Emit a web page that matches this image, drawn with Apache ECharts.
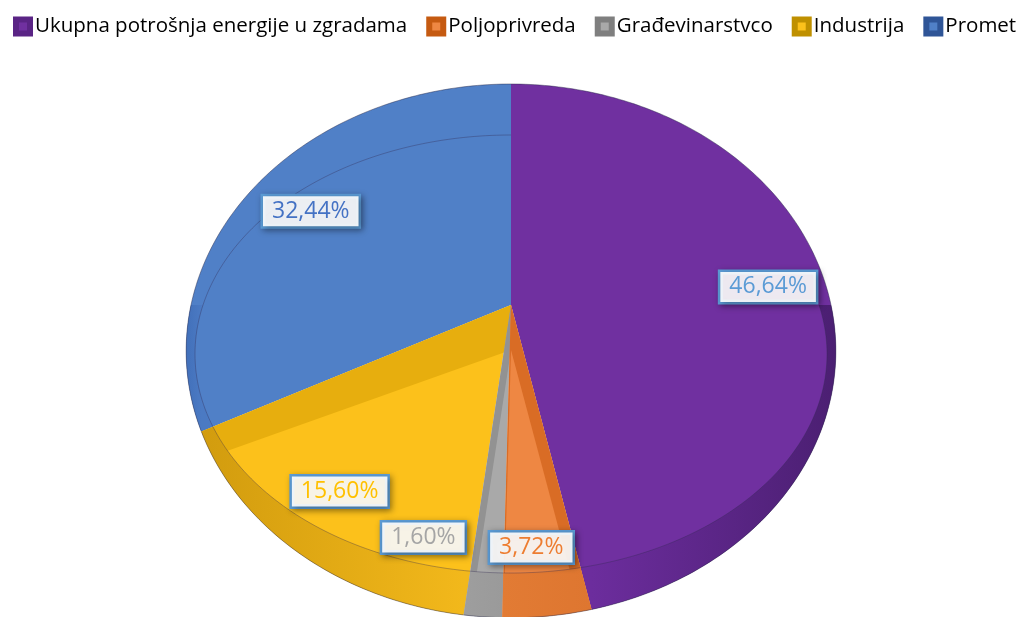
<!DOCTYPE html>
<html>
<head>
<meta charset="utf-8">
<script src="https://cdn.jsdelivr.net/npm/echarts@6/dist/echarts.min.js"></script>
<style>
  html, body { margin: 0; background: #fff; }
  #main { width: 1024px; height: 617px; }
</style>
</head>
<body>
<div id="main"></div>
<script>
// data
const categories = ['Ukupna potrošnja energije u zgradama', 'Poljoprivreda', 'Građevinarstvco', 'Industrija', 'Promet'];
const shares = [46.64, 3.72, 1.60, 15.60, 32.44];

// colours
const topColors = ['#7030a0', '#ee8743', '#a9a9a9', '#fcc11b', '#5080c7'];
const cutColors = ['#5f2890', '#d96c25', '#929292', '#e7ae0e', '#3f67ae'];
const sideColors = [['#6c2d9d', '#4b1f72'], ['#e27b34', '#de7630'], ['#9e9e9e', '#9a9a9a'], ['#d29c0e', '#f2b81b'], ['#4270ba', '#4b7ac3']];
const legendBorders = ['#5a2485', '#c55a11', '#7f7f7f', '#bf9000', '#2f5597'];
const labelColors = ['#5b9bd5', '#ed7d31', '#a5a5a5', '#ffc000', '#4472c4'];

// layout of the tilted pie
const CX = 511, AY = 305, RX = 320, RY = 259, PERSP = 0.172, DEPTH = 45;
const RIM = { cx: 511, cy: 354, rx: 316, ry: 219 };
const labelRadius = [0.82, 0.81, 0.8, 0.78, 0.77];
const labelShiftX = [0, -8, -66, -10, -4];
const labelShiftY = [4, 0, -7, 1, 4];
const drawOrder = [4, 0, 3, 2, 1];

const starts = shares.map((v, i) => shares.slice(0, i).reduce((a, b) => a + b, 0));
const TAU = Math.PI * 2;
// outline of the pie as a plain ellipse (same shape as the projected rim)
const EDGE = { cx: CX, cy: (AY - RY / (1 + PERSP) + AY + RY / (1 - PERSP)) / 2, rx: RX / Math.sqrt(1 - PERSP * PERSP), ry: (RY / (1 - PERSP) + RY / (1 + PERSP)) / 2 };

function outerPt(t, k = 1) {
  const u = k * Math.sin(t), v = -k * Math.cos(t);
  const s = 1 / (1 - PERSP * v);
  return [CX + RX * u * s, AY + RY * v * s];
}

function innerPt(t) {
  const o = outerPt(t);
  const dx = o[0] - CX, dy = o[1] - AY, oy = AY - RIM.cy;
  const a = dx * dx / (RIM.rx * RIM.rx) + dy * dy / (RIM.ry * RIM.ry);
  const b = 2 * oy * dy / (RIM.ry * RIM.ry);
  const c = oy * oy / (RIM.ry * RIM.ry) - 1;
  const tt = Math.min(1, (-b + Math.sqrt(b * b - 4 * a * c)) / (2 * a));
  return [CX + dx * tt, AY + dy * tt];
}

function edgeBottom(x) {
  const q = Math.max(0, 1 - Math.pow((x - EDGE.cx) / EDGE.rx, 2));
  return EDGE.cy + EDGE.ry * Math.sqrt(q);
}

function arcPts(t0, t1, fn) {
  const n = Math.max(2, Math.ceil((t1 - t0) / (Math.PI / 180)));
  const pts = [];
  for (let j = 0; j <= n; j++) pts.push(fn(t0 + (t1 - t0) * j / n));
  return pts;
}

function gradient(c0, c1, x0, x1) {
  return new echarts.graphic.LinearGradient(x0, 0, x1, 0, [{ offset: 0, color: c0 }, { offset: 1, color: c1 }], true);
}

function renderSlice(i) {
  return function (params, api) {
    const a0 = api.value(0) / 100 * TAU;
    const a1 = (api.value(0) + api.value(1)) / 100 * TAU;
    const kids = [];
    kids.push({ type: 'polygon', shape: { points: [[CX, AY]].concat(arcPts(a0, a1, outerPt)) }, style: { fill: topColors[i] } });

    // cut faces seen below the slice edges
    const cuts = [];
    if (a0 > 0.001 && a0 < Math.PI) cuts.push(a0);
    if (a1 > Math.PI && a1 < TAU - 0.001) cuts.push(a1);
    cuts.forEach((a) => {
      const p = innerPt(a);
      const q = [p[0], Math.min(p[1] + DEPTH, edgeBottom(p[0]) - 1)];
      kids.push({ type: 'polygon', shape: { points: [[CX, AY], p, q, [CX, AY + DEPTH]] }, style: { fill: cutColors[i] } });
    });

    // outer wall on the front half
    const s0 = Math.max(a0, Math.PI / 2), s1 = Math.min(a1, Math.PI * 1.5);
    if (s1 > s0) {
      const outer = arcPts(s0, s1, outerPt);
      const xs = outer.map((p) => p[0]);
      const pts = arcPts(s0, s1, innerPt).concat(outer.slice().reverse());
      kids.push({ type: 'polygon', shape: { points: pts }, style: { fill: gradient(sideColors[i][0], sideColors[i][1], Math.min(...xs), Math.max(...xs)) } });
    }

    // faint rim line
    const r0 = Math.max(a0, Math.PI / 2);
    if (a1 > r0) {
      kids.push({ type: 'polyline', shape: { points: arcPts(r0, a1, innerPt) }, style: { stroke: 'rgba(50,40,80,0.35)', lineWidth: 1, fill: null } });
    }
    kids.push({ type: 'polyline', shape: { points: arcPts(a0, a1, outerPt) }, style: { stroke: 'rgba(40,40,70,0.45)', lineWidth: 1, fill: null } });
    return { type: 'group', children: kids };
  };
}

function renderLabel(params, api) {
  const i = api.value(0);
  const mid = (starts[i] + shares[i] / 2) / 100 * TAU;
  const p = outerPt(mid, labelRadius[i]);
  return {
    type: 'text',
    x: p[0] + labelShiftX[i],
    y: p[1] + labelShiftY[i],
    style: {
      text: shares[i].toFixed(2).replace('.', ',') + '%',
      font: '23px "Open Sans"',
      fill: labelColors[i],
      align: 'center',
      verticalAlign: 'middle',
      backgroundColor: 'rgba(255,255,255,0.9)',
      borderColor: '#5b9bd5',
      borderWidth: 2.5,
      padding: [4, 9, 3, 9],
      shadowColor: 'rgba(0,0,0,0.35)',
      shadowBlur: 6,
      shadowOffsetX: 2,
      shadowOffsetY: 2
    }
  };
}

const series = drawOrder.map((i) => ({
  type: 'custom',
  name: categories[i],
  coordinateSystem: 'none',
  color: topColors[i],
  data: [[starts[i], shares[i]]],
  renderItem: renderSlice(i)
}));
series.push({
  type: 'custom',
  name: 'labels',
  coordinateSystem: 'none',
  z: 10,
  data: categories.map((c, i) => [i]),
  renderItem: renderLabel
});

const chart = echarts.init(document.getElementById('main'));
chart.setOption({
  animation: false,
  legend: {
    left: 13,
    right: 0,
    top: 16,
    padding: 0,
    icon: 'rect',
    itemWidth: 14,
    itemHeight: 14,
    itemGap: 19,
    textStyle: { fontFamily: 'Open Sans', fontSize: 20.5, color: '#000' },
    data: categories.map((n, i) => ({ name: n, itemStyle: { color: topColors[i], borderColor: legendBorders[i], borderWidth: 6 } }))
  },
  series
});
</script>
</body>
</html>
